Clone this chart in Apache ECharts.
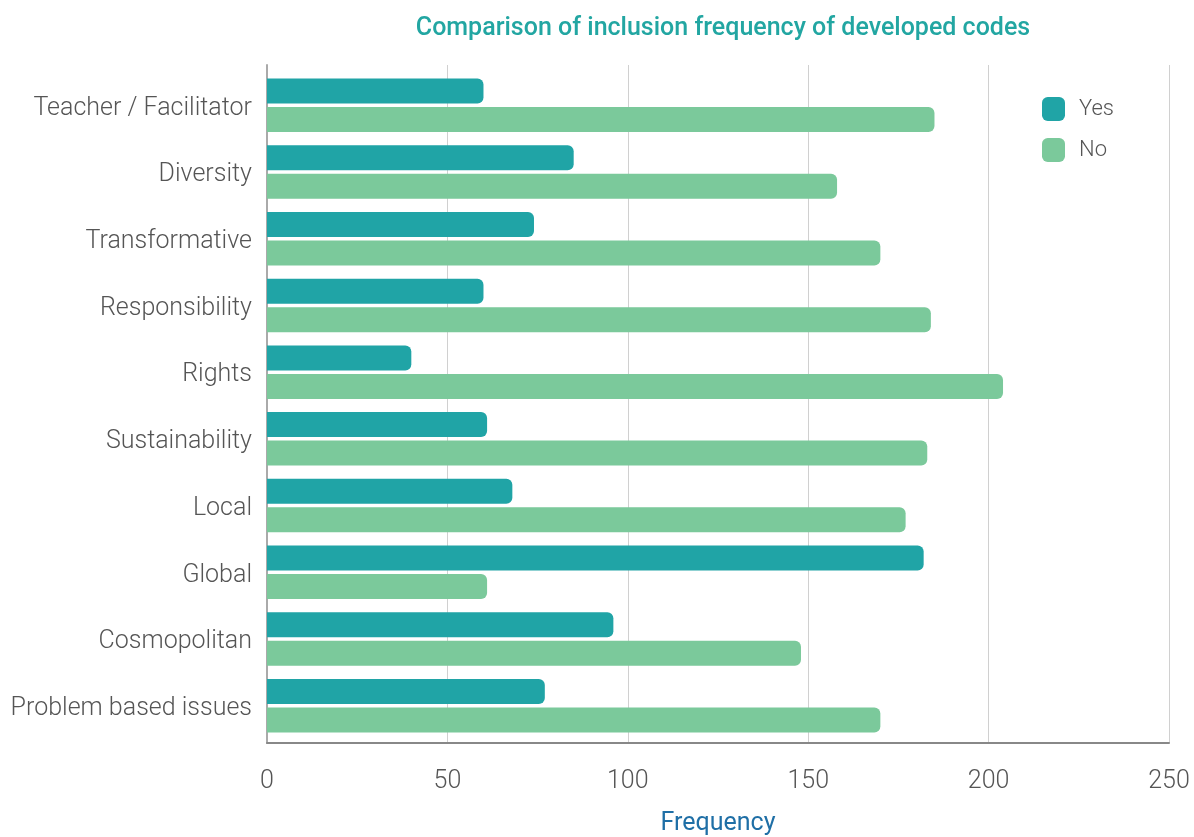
<!DOCTYPE html>
<html>
<head>
<meta charset="utf-8">
<script src="https://cdn.jsdelivr.net/npm/echarts@6/dist/echarts.min.js"></script>
<style>
html,body{margin:0;padding:0;background:#fff;}
#chart{width:1194px;height:837px;}
</style>
</head>
<body>
<div id="chart"></div>
<script>
const categories = ["Teacher / Facilitator","Diversity","Transformative","Responsibility","Rights","Sustainability","Local","Global","Cosmopolitan","Problem based issues"];
const yesValues = [60, 85, 74, 60, 40, 61, 68, 182, 96, 77];
const noValues = [185, 158, 170, 184, 204, 183, 177, 61, 148, 170];
const xTicks = { min: 0, max: 250, interval: 50 };

const FONT = 'Roboto';
const chart = echarts.init(document.getElementById('chart'), null, {renderer: 'canvas'});
chart.setOption({
  backgroundColor: '#fff',
  animation: false,
  title: {
    text: 'Comparison of inclusion frequency of developed codes',
    left: 718, top: 11, textAlign: 'center',
    textStyle: {fontFamily: FONT, fontSize: 25, fontWeight: 500, color: '#22a6a2'}
  },
  legend: {
    orient: 'vertical', left: 1042, top: 97, padding: 0,
    itemWidth: 23, itemHeight: 24, itemGap: 17,
    icon: 'roundRect',
    textStyle: {fontFamily: FONT, fontSize: 22, fontWeight: 300, color: '#555', padding: [0,0,0,9]},
    data: ['Yes','No']
  },
  grid: [
    {left: 267, right: 25, top: 72, bottom: 98, containLabel: false, outerBoundsMode: 'none'},
    {left: 267, right: 25, top: 65, bottom: 94, containLabel: false, outerBoundsMode: 'none'}
  ],
  xAxis: [
    {gridIndex: 0, type: 'value', min: xTicks.min, max: xTicks.max, interval: xTicks.interval,
     show: false},
    {gridIndex: 1, type: 'value', min: xTicks.min, max: xTicks.max, interval: xTicks.interval,
     name: 'Frequency', nameLocation: 'middle', nameGap: 68,
     nameTextStyle: {fontFamily: FONT, fontSize: 25, color: '#1f6fa6'},
     axisLine: {show: true, lineStyle: {color: '#888', width: 2}},
     axisTick: {show: false},
     axisLabel: {fontFamily: FONT, fontSize: 25, fontWeight: 300, color: '#555', margin: 26},
     splitLine: {show: true, lineStyle: {color: '#d0d0d0', width: 1}}}
  ],
  yAxis: [
    {gridIndex: 0, type: 'category', data: categories, inverse: true,
     axisLine: {show: false}, axisTick: {show: false},
     axisLabel: {margin: 15,
       formatter: function (v) { return '{a|' + v + '}'; },
       rich: {a: {fontFamily: FONT, fontSize: 25, fontWeight: 300, color: '#555', padding: [6,0,0,0]}}}},
    {gridIndex: 1, type: 'category', data: categories, inverse: true,
     axisLine: {show: true, lineStyle: {color: '#aaa', width: 2}}, axisTick: {show: false},
     axisLabel: {show: false}, splitLine: {show: false}}
  ],
  series: [
    {name: 'Yes', type: 'bar', xAxisIndex: 0, yAxisIndex: 0, data: yesValues,
     barWidth: 25, barGap: '14%',
     itemStyle: {color: '#20a4a6', borderRadius: [0,6,6,0]}},
    {name: 'No', type: 'bar', xAxisIndex: 0, yAxisIndex: 0, data: noValues,
     barWidth: 25, barGap: '14%',
     itemStyle: {color: '#7bc99b', borderRadius: [0,6,6,0]}}
  ]
});
</script>
</body>
</html>
